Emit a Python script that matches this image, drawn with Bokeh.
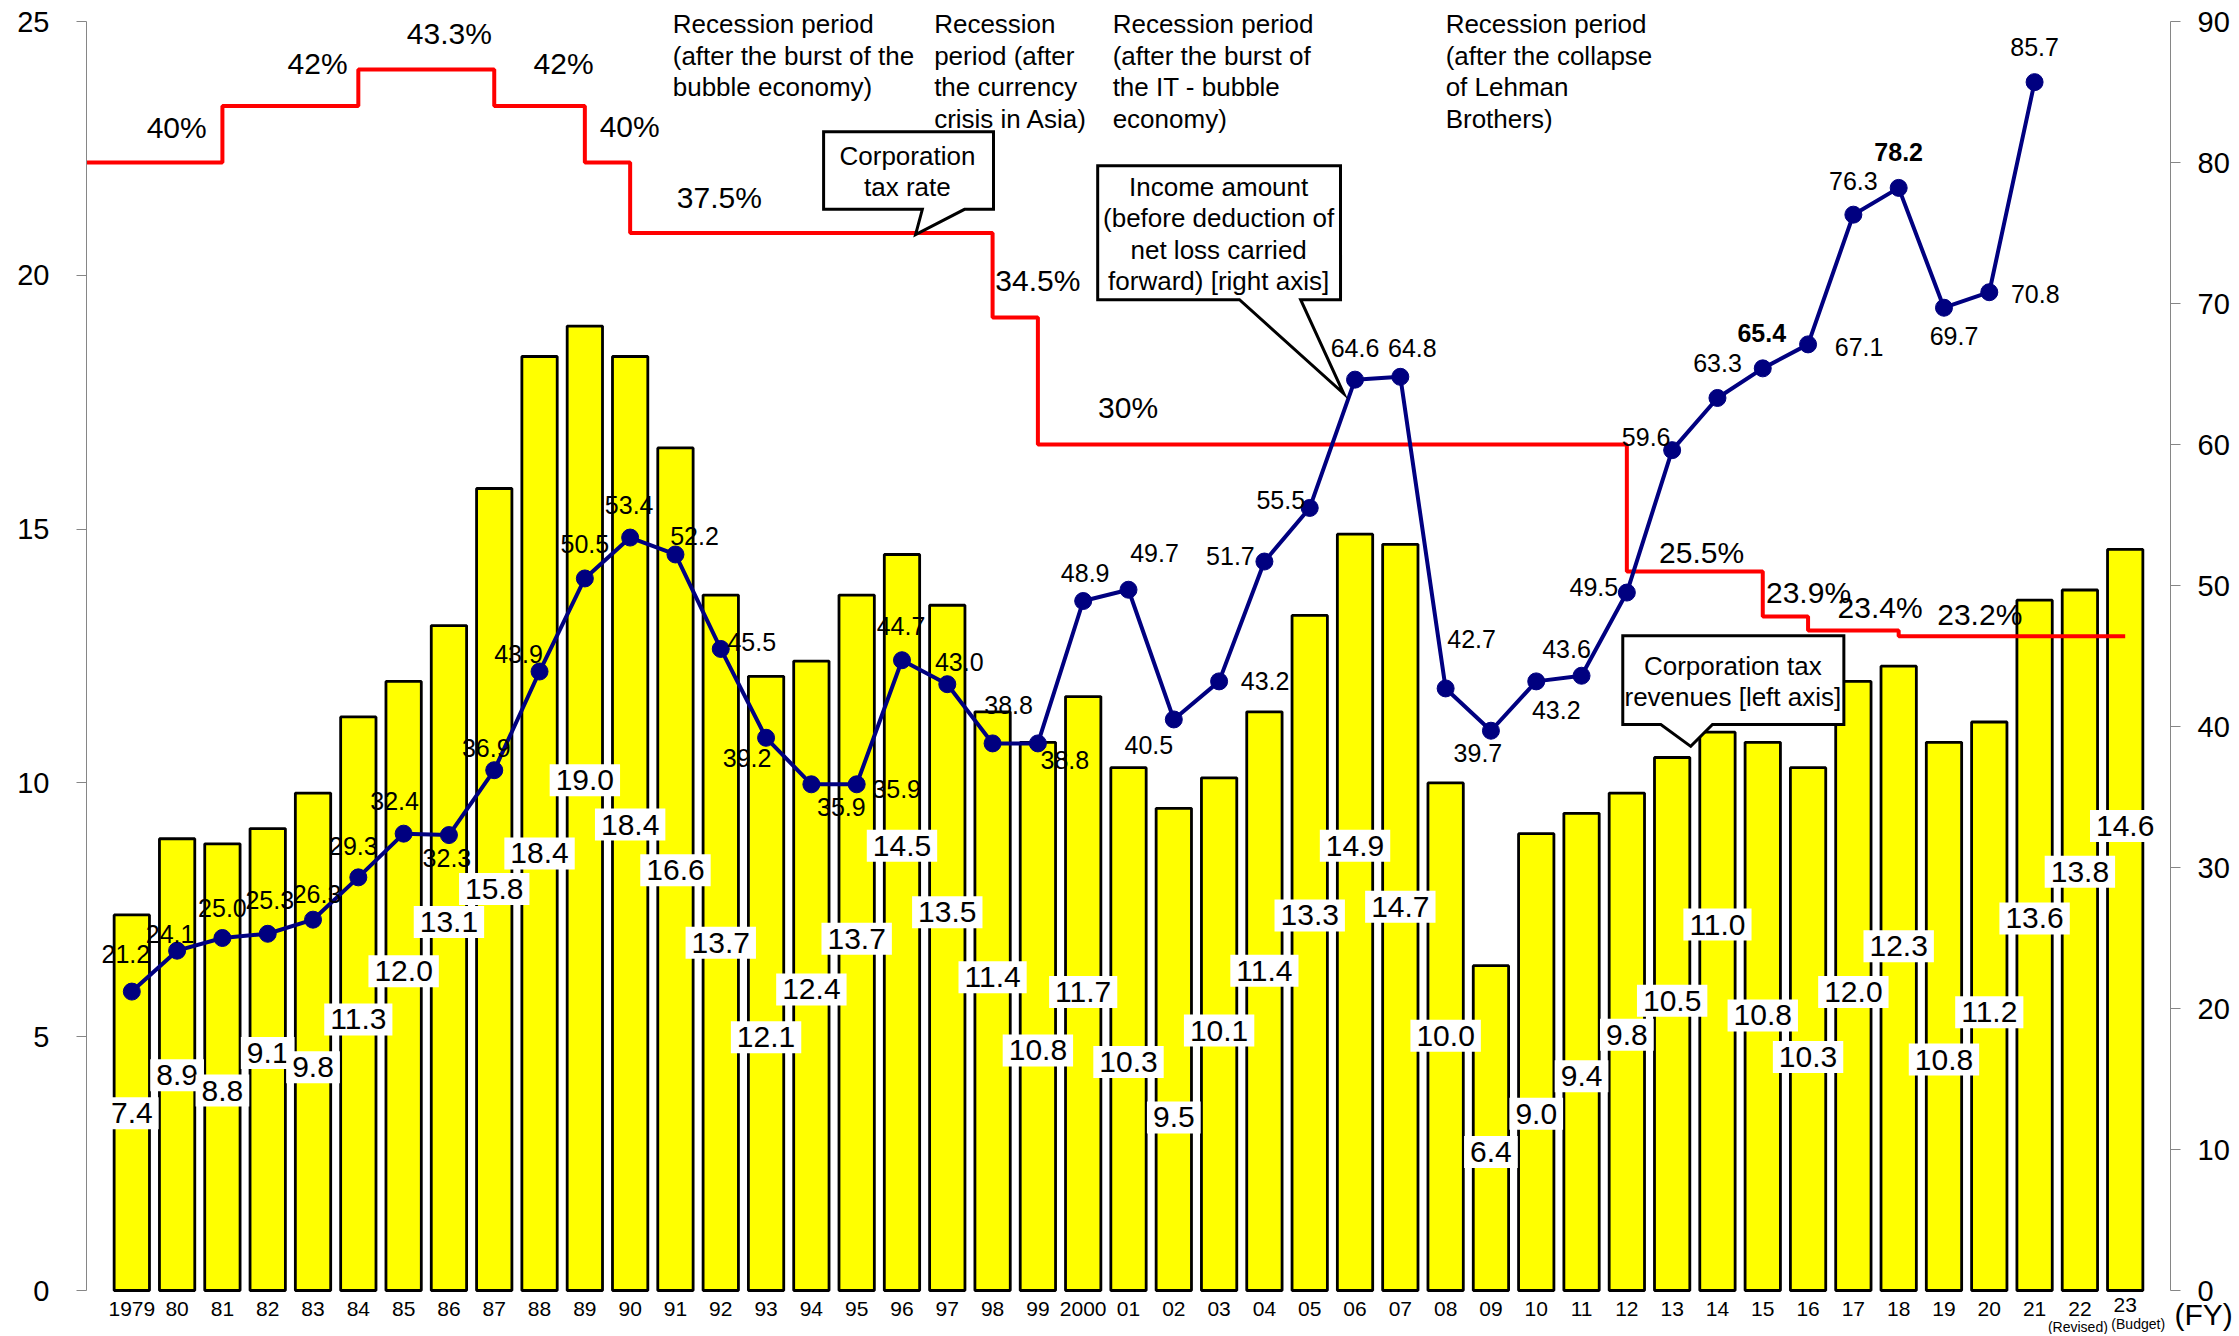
from bokeh.plotting import figure
from bokeh.models import Range1d, LinearAxis, FixedTicker, ColumnDataSource
from bokeh.embed import file_html
from bokeh.resources import INLINE
from bokeh.core.properties import value

# ---------------- data ----------------
years = ["1979", "80", "81", "82", "83", "84", "85", "86", "87", "88", "89", "90",
         "91", "92", "93", "94", "95", "96", "97", "98", "99", "2000",
         "01", "02", "03", "04", "05", "06", "07", "08", "09", "10",
         "11", "12", "13", "14", "15", "16", "17", "18", "19", "20",
         "21", "22", "23"]
year_notes = {"22": "(Revised)", "23": "(Budget)"}

# Corporation tax revenues (trillion yen, left axis)
revenue = [7.4, 8.9, 8.8, 9.1, 9.8, 11.3, 12.0, 13.1, 15.8, 18.4, 19.0, 18.4,
           16.6, 13.7, 12.1, 12.4, 13.7, 14.5, 13.5, 11.4, 10.8, 11.7,
           10.3, 9.5, 10.1, 11.4, 13.3, 14.9, 14.7, 10.0, 6.4, 9.0,
           9.4, 9.8, 10.5, 11.0, 10.8, 10.3, 12.0, 12.3, 10.8, 11.2,
           13.6, 13.8, 14.6]

# Income amount before deduction of net loss carried forward (right axis), FY1979-2021
income = [21.2, 24.1, 25.0, 25.3, 26.3, 29.3, 32.4, 32.3, 36.9, 43.9, 50.5, 53.4,
          52.2, 45.5, 39.2, 35.9, 35.9, 44.7, 43.0, 38.8, 38.8, 48.9,
          49.7, 40.5, 43.2, 51.7, 55.5, 64.6, 64.8, 42.7, 39.7, 43.2,
          43.6, 49.5, 59.6, 63.3, 65.4, 67.1, 76.3, 78.2, 69.7, 70.8,
          85.7]
income_bold = ["65.4", "78.2"]

# Corporation tax rate (%): rate in force and the FY in which the next rate starts
rate_values = [40, 42, 43.3, 42, 40, 37.5, 34.5, 30, 25.5, 23.9, 23.4, 23.2]
rate_change_years = ["81", "84", "87", "89", "90", "98", "99", "12", "15", "16", "18"]
rate_texts = ["40%", "42%", "43.3%", "42%", "40%", "37.5%", "34.5%", "30%",
              "25.5%", "23.9%", "23.4%", "23.2%"]

recession_texts = [
    "Recession period\n(after the burst of the\nbubble economy)",
    "Recession\nperiod (after\nthe currency\ncrisis in Asia)",
    "Recession period\n(after the burst of\nthe IT - bubble\neconomy)",
    "Recession period\n(after the collapse\nof Lehman\nBrothers)",
]
callout_texts = ["Corporation\ntax rate",
                 "Income amount\n(before deduction of\nnet loss carried\nforward) [right axis]",
                 "Corporation tax\nrevenues [left axis]"]

left_ticks = [0, 5, 10, 15, 20, 25]
right_ticks = [0, 10, 20, 30, 40, 50, 60, 70, 80, 90]
rate_axis_max = 45
fy_text = "(FY)"

# ---------------- layout / placement (not data) ----------------
FONT = "Liberation Sans"
W, H = 2237, 1334
B_LEFT, B_RIGHT = 86, 67
TOP_PAD, BOTTOM_PAD = 21, 44      # px between frame edges and the 25 / 0 ticks
span_px = H - TOP_PAD - BOTTOM_PAD


def rng(top):
    per = span_px / top
    return Range1d(-BOTTOM_PAD / per, top + TOP_PAD / per), per


left_rng, left_per = rng(left_ticks[-1])
inc_rng, inc_per = rng(right_ticks[-1])
rate_rng, rate_per = rng(rate_axis_max)

bar_label_y = [3.49, 4.24, 3.94, 4.68, 4.40, 5.34, 6.29, 7.26, 7.91, 8.61, 10.05, 9.18,
               8.28, 6.85, 4.99, 5.93, 6.93, 8.76, 7.45, 6.17, 4.73, 5.88,
               4.50, 3.41, 5.12, 6.30, 7.39, 8.76, 7.56, 5.02, 2.73, 3.48,
               4.22, 5.04, 5.71, 7.21, 5.42, 4.60, 5.88, 6.78, 4.55, 5.48,
               7.33, 8.25, 9.15]
line_label_dx = [-6, -7, 0, 2, 4, -5, -9, -2, -8, -21, 0, -1,
                 19, 31, -19, 30, 40, -1, 12, 16, 27, 2,
                 26, -25, 46, -34, -29, 0, 12, 26, -13, 20,
                 -15, -33, -26, 0, -1, 51, 0, 0, 10, 46,
                 0]
line_label_dy = [-38, -17, -30, -34, -26, -31, -33, 23, -22, -18, -34, -33,
                 -18, -7, 20, 23, 5, -34, -22, -38, 17, -28,
                 -37, 26, 0, -6, -8, -32, -29, -49, 22, 29,
                 -27, -6, -13, -35, -35, 3, -34, -36, 28, 2,
                 -35]
rate_label_x = [0.99, 4.10, 7.01, 9.53, 10.99, 12.97, 20.0, 21.99, 34.65, 37.01, 38.59, 40.79]
rate_label_y = [41.25, 43.5, 44.56, 43.5, 41.27, 38.77, 35.82, 31.31, 26.18, 24.75, 24.23, 23.97]
recession_x = [11.94, 17.71, 21.65, 29.0]
recession_top = 25.246
callouts = [
    dict(x0=15.27, x1=19.02, y0=21.30, y1=22.83, bx0=17.45, bx1=18.38, tx=17.30, ty=20.80, cx=17.12, cy=22.04),
    dict(x0=21.32, x1=26.68, y0=19.52, y1=22.16, bx0=24.45, bx1=25.80, tx=26.75, ty=17.67, cx=23.99, cy=20.81),
    dict(x0=32.91, x1=37.79, y0=11.15, y1=12.90, bx0=33.75, bx1=34.89, tx=34.41, ty=10.72, cx=35.34, cy=12.00),
]
year_label_dy = [14 if y == "23" else 18 for y in years]
note_dx = [-2, 13]
note_dy = [36, 33]
LINE_H = 1.05

n = len(years)
xs = list(range(n))

p = figure(width=W, height=H, output_backend="svg", toolbar_location=None,
           x_range=Range1d(-1, n), y_range=left_rng,
           min_border_left=B_LEFT, min_border_right=B_RIGHT,
           min_border_top=0, min_border_bottom=0)
p.extra_y_ranges = {"income": inc_rng, "rate": rate_rng}
p.outline_line_color = None
p.xgrid.visible = False
p.ygrid.visible = False
p.xaxis.visible = False
p.background_fill_color = "white"
p.border_fill_color = "white"

AX_GRAY = "#868686"


def style_y(ax, standoff):
    ax.axis_line_color = AX_GRAY
    ax.major_tick_line_color = AX_GRAY
    ax.major_tick_out = 10
    ax.major_tick_in = 0
    ax.minor_tick_line_color = None
    ax.major_label_text_font = FONT
    ax.major_label_text_font_size = "29px"
    ax.major_label_text_color = "black"
    ax.major_label_standoff = standoff


ly = p.yaxis[0]
ly.ticker = FixedTicker(ticks=left_ticks)
ly.bounds = (left_ticks[0], left_ticks[-1])
style_y(ly, 27)

ry = LinearAxis(y_range_name="income", ticker=FixedTicker(ticks=right_ticks),
                bounds=(right_ticks[0], right_ticks[-1]))
style_y(ry, 17)
p.add_layout(ry, "right")

# "(FY)" unit label, drawn as the only tick label of a bare second right axis
fy_y = round(-31 / inc_per, 2)
fy = LinearAxis(y_range_name="income", ticker=FixedTicker(ticks=[fy_y]),
                major_label_overrides={fy_y: fy_text})
fy.axis_line_color = None
fy.major_tick_line_color = None
fy.minor_tick_line_color = None
fy.major_tick_out = 0
fy.major_tick_in = 0
fy.major_label_standoff = -58
fy.major_label_text_font = FONT
fy.major_label_text_font_size = "30px"
fy.major_label_text_color = "black"
p.add_layout(fy, "right")

# bars
src = ColumnDataSource(dict(x=xs, rev=revenue, ly=bar_label_y, zero=[0] * n,
                            yr=years, ydy=year_label_dy,
                            txt=[f"{v:.1f}" for v in revenue]))
p.vbar(x="x", top="rev", width=0.78, source=src, fill_color="#FFFF00",
       line_color="black", line_width=2.8)

# year labels under the bars
p.text(x="x", y="zero", text="yr", source=src, y_offset="ydy", text_align="center",
       text_baseline="middle", text_font=value(FONT), text_font_size=value("21px"),
       text_color="black")
p.text(x=[years.index(k) for k in year_notes], y=[0] * len(year_notes),
       text=list(year_notes.values()), x_offset=note_dx, y_offset=note_dy,
       text_align="center", text_baseline="middle", text_font=value(FONT),
       text_font_size=value("14px"), text_color="black")

# corporation tax rate step line
step_x = [p.x_range.start] + [years.index(y) for y in rate_change_years] + [n - 1]
step_y = rate_values + [rate_values[-1]]
p.step(x=step_x, y=step_y, mode="after", y_range_name="rate",
       line_color="#FF0000", line_width=4)

# income line
isrc = ColumnDataSource(dict(x=xs[:len(income)], y=income,
                             txt=[f"{v:.1f}" for v in income],
                             dx=line_label_dx, dy=line_label_dy,
                             st=["bold" if f"{v:.1f}" in income_bold else "normal" for v in income]))
p.line(x="x", y="y", source=isrc, y_range_name="income", line_color="#000080", line_width=4)
p.scatter(x="x", y="y", source=isrc, y_range_name="income", size=17,
          fill_color="#000080", line_color="#000080")
p.text(x="x", y="y", text="txt", source=isrc, y_range_name="income",
       x_offset="dx", y_offset="dy", text_align="center", text_baseline="middle",
       text_font=value(FONT), text_font_size=value("25px"), text_font_style="st",
       text_color="black")

# rate labels
p.text(x=rate_label_x, y=rate_label_y, text=rate_texts, y_range_name="rate",
       text_align="center", text_baseline="middle", text_font=value(FONT),
       text_font_size=value("30px"), text_color="black")

# bar value labels in white boxes
p.text(x="x", y="ly", text="txt", source=src, text_align="center", text_baseline="middle",
       text_font=value(FONT), text_font_size=value("30px"), text_color="black",
       background_fill_color="white", padding=6)

# recession period texts
p.text(x=recession_x, y=[recession_top] * len(recession_x), text=recession_texts,
       text_align="left", text_baseline="top", text_line_height=LINE_H,
       text_font=value(FONT), text_font_size=value("26px"), text_color="black")

# callouts
for c, t in zip(callouts, callout_texts):
    px_ = [c["x0"], c["x1"], c["x1"], c["bx1"], c["tx"], c["bx0"], c["x0"]]
    py_ = [c["y1"], c["y1"], c["y0"], c["y0"], c["ty"], c["y0"], c["y0"]]
    p.patch(px_, py_, fill_color="white", line_color="black", line_width=3, line_join="miter")
    p.text(x=[c["cx"]], y=[c["cy"]], text=[t], text_align="center", text_baseline="middle",
           text_line_height=LINE_H, text_font=value(FONT), text_font_size=value("26px"),
           text_color="black")

open("out.html", "w").write(file_html(p, INLINE))
